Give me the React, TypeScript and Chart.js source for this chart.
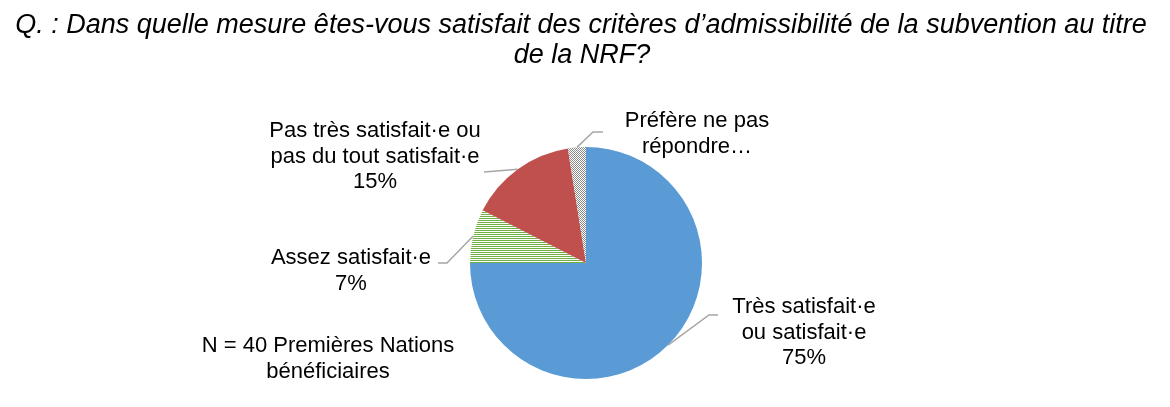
import { useEffect, useRef } from "react"
import { Chart, registerables } from "chart.js"

Chart.register(...registerables)

const categories = [
  "Très satisfait·e ou satisfait·e",
  "Assez satisfait·e",
  "Pas très satisfait·e ou pas du tout satisfait·e",
  "Préfère ne pas répondre…",
]
// 30, 3, 6 and 1 of the 40 respondents
const shares = [75, 7.5, 15, 2.5]

const titleLines = [
  "Q. : Dans quelle mesure êtes-vous satisfait des critères d’admissibilité de la subvention au titre",
  "de la NRF?",
]
const noteLines = ["N = 40 Premières Nations", "bénéficiaires"]

// label text per slice, with where the text block sits and where the leader starts
const labelLines = [
  ["Très satisfait·e", "ou satisfait·e", "75%"],
  ["Assez satisfait·e", "7%"],
  ["Pas très satisfait·e ou", "pas du tout satisfait·e", "15%"],
  ["Préfère ne pas", "répondre…"],
]
const labelPos = [
  { x: 804, y: 313, start: [718, 315], elbow: [709, 315] },
  { x: 351, y: 264, start: [438, 263], elbow: [447, 263] },
  { x: 375, y: 137, start: [484, 172], elbow: null },
  { x: 697, y: 127, start: [603, 132], elbow: [593, 132] },
]

function makePattern(kind: "lines" | "checker") {
  const c = document.createElement("canvas")
  c.width = 2
  c.height = 2
  const g = c.getContext("2d")!
  g.fillStyle = "#ffffff"
  g.fillRect(0, 0, 2, 2)
  if (kind === "lines") {
    g.fillStyle = "#72b043"
    g.fillRect(0, 0, 2, 1)
  } else {
    g.fillStyle = "#8a8a8a"
    g.fillRect(0, 0, 1, 1)
    g.fillRect(1, 1, 1, 1)
  }
  return g.createPattern(c, "repeat")!
}

const textPlugin = {
  id: "texts",
  afterDraw(chart: Chart) {
    const ctx = chart.ctx
    ctx.save()
    ctx.fillStyle = "#000"
    ctx.textAlign = "center"
    ctx.textBaseline = "alphabetic"

    ctx.font = "italic 27px 'Liberation Sans', Arial, sans-serif"
    ctx.fillText(titleLines[0], 581, 33)
    ctx.fillText(titleLines[1], 582, 63)

    ctx.font = "22px 'Liberation Sans', Arial, sans-serif"
    noteLines.forEach((l, i) => ctx.fillText(l, 328, 352 + i * 26))

    const meta = chart.getDatasetMeta(0)
    meta.data.forEach((el: any, i: number) => {
      const p = el.getProps(["x", "y", "startAngle", "endAngle", "outerRadius"], true)
      const mid = (p.startAngle + p.endAngle) / 2
      const ex = p.x + Math.cos(mid) * p.outerRadius
      const ey = p.y + Math.sin(mid) * p.outerRadius
      const lp = labelPos[i]
      ctx.strokeStyle = "#a6a6a6"
      ctx.lineWidth = 1.5
      ctx.beginPath()
      ctx.moveTo(lp.start[0], lp.start[1])
      if (lp.elbow) ctx.lineTo(lp.elbow[0], lp.elbow[1])
      ctx.lineTo(ex, ey)
      ctx.stroke()
      labelLines[i].forEach((l, j) => ctx.fillText(l, lp.x, lp.y + j * 25.5))
    })
    ctx.restore()
  },
}

export default function App() {
  const chartRef = useRef<HTMLCanvasElement>(null)
  const chartInstance = useRef<Chart | null>(null)

  useEffect(() => {
    document.body.style.margin = "0"
    if (!chartRef.current) return
    if (chartInstance.current) chartInstance.current.destroy()
    const ctx = chartRef.current.getContext("2d")
    if (!ctx) return

    chartInstance.current = new Chart(ctx, {
      type: "pie",
      data: {
        labels: categories,
        datasets: [
          {
            data: shares,
            backgroundColor: ["#5b9bd5", makePattern("lines"), "#c0504d", makePattern("checker")],
            borderWidth: 0,
          },
        ],
      },
      options: {
        responsive: false,
        animation: false,
        layout: { padding: { top: 147, bottom: 28, left: 470, right: 468 } },
        plugins: {
          legend: { display: false },
          title: { display: false },
          tooltip: { enabled: false },
        },
      },
      plugins: [textPlugin],
    })

    return () => {
      if (chartInstance.current) {
        chartInstance.current.destroy()
        chartInstance.current = null
      }
    }
  }, [])

  return <canvas ref={chartRef} width={1170} height={407} style={{ display: "block" }} />
}
